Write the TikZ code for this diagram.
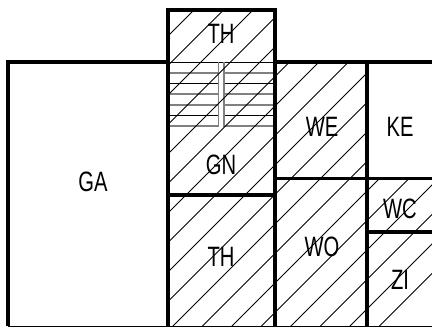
\documentclass[tikz,border=0pt]{standalone}
\usepackage{fontspec}
\setmainfont{Liberation Sans}
\tikzset{
  wall/.style={line width=3.8pt,line cap=butt,line join=miter},
  hatch/.style={line width=0.8pt,black},
  stairG/.style={line width=1.6pt,black!50},
  stairK/.style={line width=1pt,black},
  room/.style={inner sep=0pt,font=\fontsize{28}{28}\selectfont}
}
\newcommand{\rlab}[1]{\scalebox{0.72}[1]{#1}}
\begin{document}
\begin{tikzpicture}[x=1pt,y=-1pt]
\useasboundingbox (0,0) rectangle (432,327);
\fill[white] (0,0) rectangle (432,327);
% stairs
\foreach \y in {73,94,105,126} {
  \draw[stairG] (168,\y) -- (218.5,\y);
  \draw[stairG] (224,\y) -- (275,\y);
}
\foreach \y in {83,115} {
  \draw[stairK] (168,\y) -- (218.5,\y);
  \draw[stairK] (224,\y) -- (275,\y);
}
\draw[stairK] (168,62) -- (275,62);
\foreach \x in {218.5,224} \draw[stairG] (\x,62) -- (\x,126.8);
% hatching
\begin{scope}
\clip (168,10) -- (275,10) -- (275,62) -- (367,62) -- (367,178) -- (432,178) -- (432,327) -- (168,327) -- cycle;
\foreach \k in {0,...,17} {
  \pgfmathsetmacro{\s}{204+29.5*\k}
  \draw[hatch] (\s-330,330) -- (\s,0);
}
\end{scope}
% walls
\draw[wall] (168,62) -- (8,62) -- (8,326);
\draw[wall] (168,327) -- (168,10) -- (275,10) -- (275,327);
\draw[wall] (275,62) -- (432,62);
\draw[wall] (367,62) -- (367,327);
\draw[wall] (168,195) -- (275,195);
\draw[wall] (275,178.5) -- (432,178.5);
\draw[wall] (367,232) -- (432,232);
\draw[line width=1pt] (8,326.5) -- (432,326.5);
% labels
\node[room] (th1) at (221,34) {\rlab{TH}};
\node[room] (gn) at (221,165) {\rlab{GN}};
\node[room] (th2) at (221,257) {\rlab{TH}};
\node[room] (ga) at (93,182) {\rlab{GA}};
\node[room] (we) at (322,127) {\rlab{WE}};
\node[room] (ke) at (400,127) {\rlab{KE}};
\node[room] (wo) at (322,247) {\rlab{WO}};
\node[room] (wc) at (400,209) {\rlab{WC}};
\node[room] (zi) at (400,280) {\rlab{ZI}};
\end{tikzpicture}
\end{document}
